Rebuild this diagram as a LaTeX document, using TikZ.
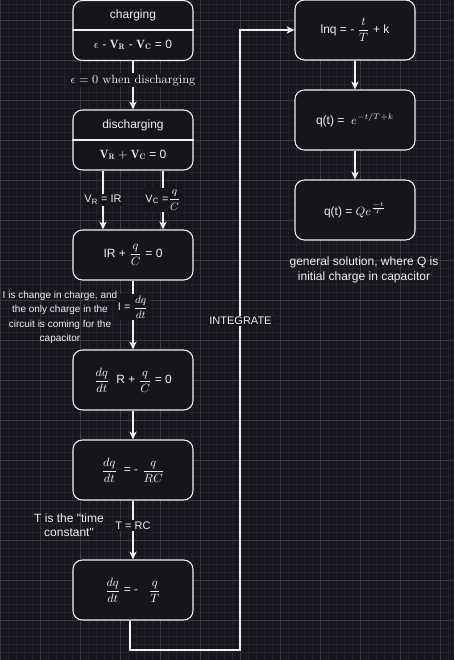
\documentclass[tikz,border=0pt]{standalone}
\usepackage{fontspec}
\usepackage{amsmath}
\newfontfamily\hv{Liberation Sans}
\usetikzlibrary{arrows.meta,calc}
\definecolor{bgc}{HTML}{18151D}
\definecolor{minorc}{HTML}{24212A}
\definecolor{majorc}{HTML}{3A393F}
\definecolor{boxc}{HTML}{17141C}
\definecolor{fgc}{HTML}{F0F0F0}
\newcommand\sftw{\hv\fontsize{9}{10.8}\selectfont}
\newcommand\sfel{\hv\fontsize{8.25}{9.9}\selectfont}
\newcommand\sften{\hv\fontsize{7.5}{10.8}\selectfont}
\newcommand\rmtw{\rmfamily\fontsize{9}{10.8}\selectfont}
\begin{document}
\begin{tikzpicture}[x=0.75pt,y=-0.75pt,
  every node/.style={text=fgc},
  box/.style={draw=fgc,fill=boxc,rounded corners=7pt,line width=0.8pt,
    minimum width=90pt,minimum height=45pt,inner sep=0pt,font=\sftw},
  arr/.style={draw=fgc,line width=0.8pt,-{Stealth[length=6pt,width=5.5pt,inset=1.8pt]}},
  elbl/.style={fill=bgc,inner sep=1.2pt,font=\sfel},
  note/.style={align=center,inner sep=0pt}]
\useasboundingbox (0,0) rectangle (454,660);
\fill[bgc] (0,0) rectangle (454,660);
\foreach \x in {0,8,...,448} \draw[minorc,line width=0.6pt] (\x,0) -- (\x,660);
\foreach \y in {4,12,...,660} \draw[minorc,line width=0.6pt] (0,\y) -- (454,\y);
\foreach \x in {0,40,...,440} \draw[majorc,line width=0.6pt] (\x,0) -- (\x,660);
\foreach \y in {20,60,...,660} \draw[majorc,line width=0.6pt] (0,\y) -- (454,\y);

% left column
\node[box] (chg) at (133,30.5) {};
\coordinate (d1) at (0,30);
\draw[fgc,line width=0.8pt] (chg.west |- d1) -- (chg.east |- d1);
\node[font=\sftw] (chgt) at (133,15) {charging};
\node[font=\sftw] (chge) at (133,45) {$\epsilon$ - $\mathbf{V_R}$ - $\mathbf{V_C}$ = 0};

\node[box] (dis) at (133,140) {};
\coordinate (d2) at (0,140);
\draw[fgc,line width=0.8pt] (dis.west |- d2) -- (dis.east |- d2);
\node[font=\sftw] (dist) at (133,125) {discharging};
\node[font=\sftw] (dise) at (133,155) {$\mathbf{V_R} + \mathbf{V_C}$ = 0};

\node[box,minimum height=37.5pt] (ir) at (133,255) {IR + $\dfrac{q}{C}$ = 0};
\node[box] (b4) at (133,380) {$\dfrac{dq}{dt}$\hspace{5pt}R + $\dfrac{q}{C}$ = 0};
\node[box] (b5) at (133,470) {$\dfrac{dq}{dt}$\hspace{5pt}= -\hspace{3pt}$\dfrac{q}{RC}$};
\node[box] (b6) at (133,590) {$\dfrac{dq}{dt}$ = -\hspace{8pt}$\dfrac{q}{T}$};

% right column
\node[box] (lnq) at (355,30) {lnq = - $\dfrac{t}{T}$ + k};
\node[box] (qe) at (355,120) {q(t) =\hspace{5pt}$e^{-t/T+k}$};
\node[box] (qq) at (355,210) {q(t) = $Qe^{\frac{-t}{T}}$};

% connectors
\draw[arr] (chg) -- (dis) node[elbl,font=\rmtw,pos=0.4] (l1) {$\epsilon = 0$ when discharging};
\draw[arr] ([xshift=-22.5pt]dis.south) -- ([xshift=-22.5pt]ir.north) node[elbl,midway] (l2) {V\textsubscript{R} = IR};
\draw[arr] ([xshift=22.5pt]dis.south) -- ([xshift=22.5pt]ir.north) node[elbl,midway] (l3) {V\textsubscript{C} =$\dfrac{q}{C}$};
\draw[arr] (ir) -- (b4) node[elbl,pos=0.39] (l4) {I = $\dfrac{dq}{dt}$};
\draw[arr] (b4) -- (b5);
\draw[arr] (b5) -- (b6) node[elbl,pos=0.43] (l5) {T = RC};
\coordinate (c1) at (240,650);
\draw[arr] ([xshift=-2.25pt]b6.south) |- (c1) |- (lnq.west);
\node[elbl] (integ) at (240.5,321) {INTEGRATE};
\draw[arr] (lnq) -- (qe);
\draw[arr] (qe) -- (qq);

% notes
\node[note,font=\sften] (n1) at (60,317.5) {I is change in charge, and\\the only charge in the\\circuit is coming for the\\capacitor};
\node[note,font=\sftw] (n2) at (69,525.5) {T is the "time\\constant"};
\node[note,font=\sftw] (n3) at (364,270) {general solution, where Q is\\initial charge in capacitor};
\end{tikzpicture}
\end{document}
